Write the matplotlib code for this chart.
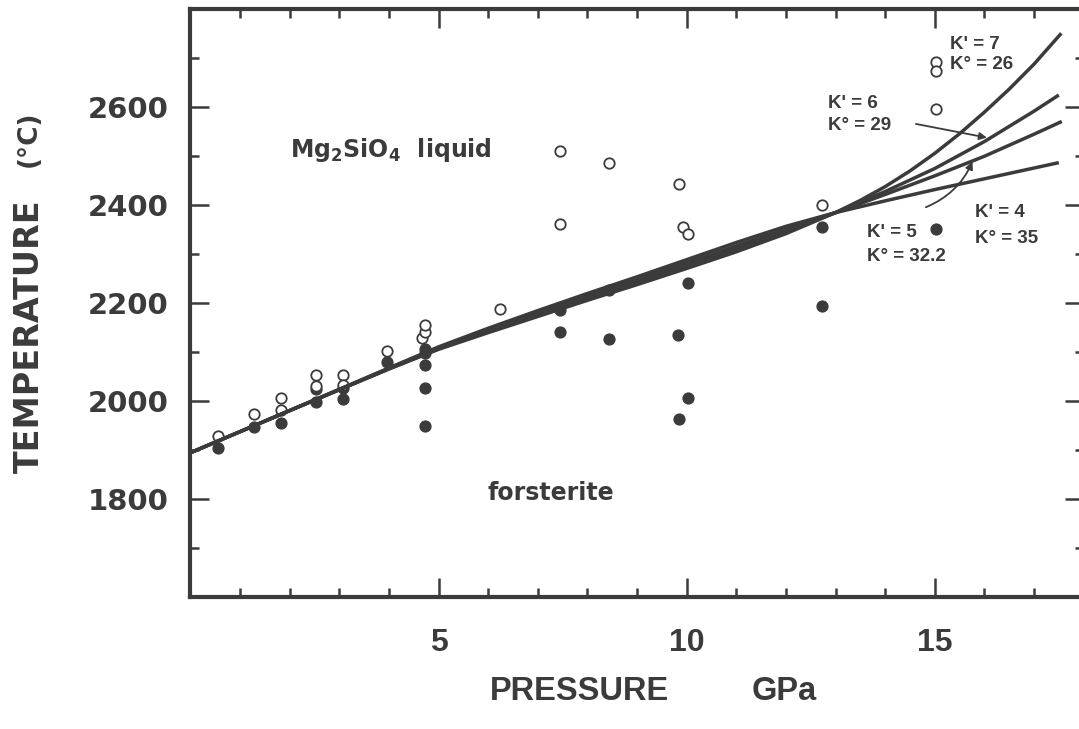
import numpy as np
import matplotlib.pyplot as plt
from matplotlib.ticker import FixedLocator, NullFormatter

ink = '#3b3b3b'

# Melting curves (Simon fits) for each K'
p_k4 = [0, 2, 4, 5, 6, 7, 8, 9, 10, 11, 12, 13, 14, 15, 16, 17, 17.5]
t_k4 = [1895, 1981, 2068, 2111, 2149, 2185, 2220, 2254, 2289, 2324, 2357, 2385, 2409, 2432, 2454, 2476, 2487]

p_k5 = [0, 2, 4, 5, 6, 7, 8, 9, 10, 11, 12, 13, 14, 15, 16, 17, 17.56]
t_k5 = [1895, 1981, 2067, 2109, 2146, 2181, 2216, 2249, 2283, 2317, 2351, 2385, 2422, 2460, 2500, 2545, 2571]

p_k6 = [0, 2, 4, 5, 6, 7, 8, 9, 10, 11, 12, 13, 14, 15, 16, 17, 17.5]
t_k6 = [1895, 1981, 2066, 2107, 2143, 2177, 2211, 2244, 2277, 2311, 2346, 2385, 2428, 2475, 2530, 2592, 2625]

p_k7 = [0, 2, 4, 5, 6, 7, 8, 9, 10, 11, 12, 13, 13.5, 14, 14.5, 15, 15.5, 16, 16.5, 17, 17.55]
t_k7 = [1895, 1981, 2066, 2106, 2140, 2173, 2206, 2238, 2271, 2305, 2342, 2385, 2410, 2438, 2470, 2506, 2546, 2590, 2637, 2688, 2751]

# Experimental runs: open = liquid, filled = forsterite
p_liq = [0.56, 1.28, 1.82, 1.82, 2.53, 2.53, 3.08, 3.08, 3.96, 4.66, 4.73, 4.73,
         6.24, 7.45, 7.45, 8.44, 9.85, 9.93, 10.03, 12.73, 15.02, 15.02, 15.02]
t_liq = [1929, 1975, 2006, 1982, 2054, 2032, 2054, 2034, 2103, 2129, 2142, 2156,
         2188, 2361, 2511, 2486, 2443, 2356, 2341, 2401, 2693, 2674, 2596]

p_fo = [0.56, 1.28, 1.82, 2.53, 2.53, 3.08, 3.08, 3.96, 4.73, 4.73, 4.73, 4.73, 4.73,
        7.45, 7.45, 8.44, 8.44, 9.83, 9.85, 10.02, 10.02, 12.73, 12.73, 15.02]
t_fo = [1905, 1948, 1955, 2026, 1998, 2028, 2004, 2081, 2106, 2098, 2074, 2027, 1950,
        2186, 2142, 2228, 2127, 2135, 1963, 2242, 2007, 2355, 2194, 2352]

fig = plt.figure(figsize=(10.79, 7.29), dpi=100)
ax = fig.add_axes([0.1765, 0.1807, 0.8278, 0.8066])

ax.plot(p_fo, t_fo, 'o', ms=7.8, color=ink, mec=ink, zorder=2)
ax.plot(p_liq, t_liq, 'o', ms=7.5, mfc='white', mec=ink, mew=1.3, zorder=3)
for p, t in [(p_k4, t_k4), (p_k5, t_k5), (p_k6, t_k6), (p_k7, t_k7)]:
    ax.plot(p, t, '-', color=ink, lw=2.5, zorder=4, solid_capstyle='butt')

ax.set_xlim(0, 18)
ax.set_ylim(1600, 2800)

# ticks
ax.xaxis.set_major_locator(FixedLocator([5, 10, 15]))
ax.xaxis.set_minor_locator(FixedLocator([i for i in range(1, 18) if i % 5]))
ax.yaxis.set_major_locator(FixedLocator([1800, 2000, 2200, 2400, 2600]))
ax.yaxis.set_minor_locator(FixedLocator([1700, 1900, 2100, 2300, 2500, 2700]))
ax.tick_params(which='both', direction='in', top=True, right=True, color=ink, width=1.8)
ax.tick_params(which='major', length=14)
ax.tick_params(which='minor', length=6.5)
ax.tick_params(axis='x', pad=22)
ax.tick_params(axis='y', pad=16)
ax.xaxis.set_minor_formatter(NullFormatter())
for lab in ax.get_xticklabels():
    lab.set_family('Liberation Sans')
    lab.set_fontweight('bold')
    lab.set_fontsize(23)
    lab.set_color(ink)
for lab in ax.get_yticklabels():
    lab.set_family('DejaVu Sans')
    lab.set_fontweight('bold')
    lab.set_fontsize(21)
    lab.set_color(ink)

for s in ax.spines.values():
    s.set_linewidth(3)
    s.set_color(ink)

# axis titles
fig.text(29 / 1079, 1 - 336 / 729, 'TEMPERATURE', rotation=90, ha='center', va='center',
         family='DejaVu Sans', fontweight='bold', fontsize=24, color=ink)
fig.text(29 / 1079, 1 - 139 / 729, '(°C)', rotation=90, ha='center', va='center',
         family='DejaVu Sans', fontweight='bold', fontsize=19, color=ink)
fig.text(490 / 1079, 1 - 700 / 729, 'PRESSURE', ha='left', va='baseline',
         family='Liberation Sans', fontweight='bold', fontsize=23.5, color=ink)
fig.text(752 / 1079, 1 - 700 / 729, 'GPa', ha='left', va='baseline',
         family='Liberation Sans', fontweight='bold', fontsize=23.5, color=ink)

# field labels
plt.rcParams['mathtext.fontset'] = 'dejavusans'
ax.text(2.01, 2499, r'Mg$_\mathbf{2}$SiO$_\mathbf{4}$  liquid', family='DejaVu Sans',
        fontweight='bold', fontsize=17, color=ink, va='baseline')
ax.text(5.98, 1799, 'forsterite', family='DejaVu Sans', fontweight='bold', fontsize=17,
        color=ink, va='baseline')

# K' / K° labels
kfont = dict(family='Liberation Sans', fontweight='bold', fontsize=13.5, color=ink, va='baseline')
ax.text(15.31, 2718, "K' = 7", **kfont)
ax.text(15.31, 2678, "K° = 26", **kfont)
ax.text(12.85, 2598, "K' = 6", **kfont)
ax.text(12.85, 2554, "K° = 29", **kfont)
ax.text(13.63, 2335, "K' = 5", **kfont)
ax.text(13.63, 2287, "K° = 32.2", **kfont)
ax.text(15.81, 2376, "K' = 4", **kfont)
ax.text(15.81, 2324, "K° = 35", **kfont)

arrow = dict(arrowstyle='-|>', color=ink, lw=1.3, mutation_scale=11, shrinkA=0, shrinkB=0)
ax.annotate('', xy=(16.05, 2538), xytext=(14.62, 2566), arrowprops=arrow)
ax.annotate('', xy=(15.76, 2489), xytext=(14.82, 2396),
            arrowprops=dict(arrow, connectionstyle='arc3,rad=0.2'))

fig.savefig('out.png', dpi=100)
